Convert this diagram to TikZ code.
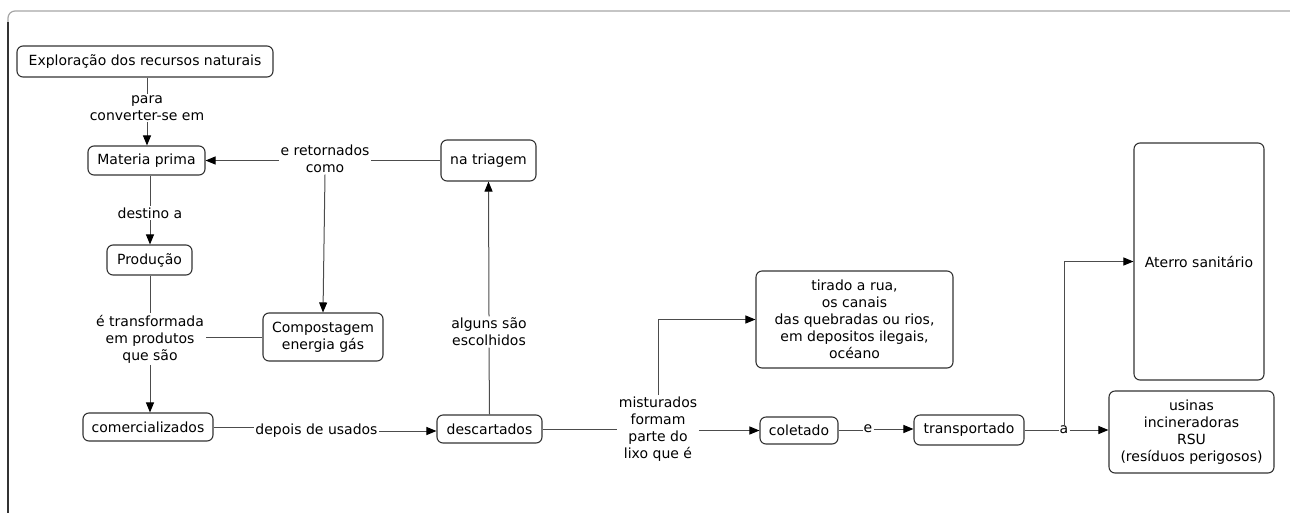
\documentclass[tikz,border=0pt]{standalone}
\usepackage{fontspec}
\setmainfont{DejaVu Sans}
\usetikzlibrary{arrows.meta}
\begin{document}
\begin{tikzpicture}[x=1pt,y=-1pt,
  font=\fontsize{14}{17}\selectfont,
  box/.style={draw=black!80, line width=1.1pt, rounded corners=6pt, align=center,
              inner sep=0pt, text=black},
  phrase/.style={align=center, inner sep=1.5pt, text=black},
  link/.style={draw=black!70, line width=1pt},
  arr/.style={link, -{Triangle[length=10pt,width=8pt,color=black]}},
  frameline/.style={line width=1.2pt}]
\useasboundingbox (0,0) rectangle (1290,512);

% outer frame
\draw[frameline, draw=black!35, rounded corners=7pt] (8,40) -- (8,11) -- (1292,11);
\draw[frameline, draw=black!80] (8,513) -- (8,22);

% concepts
\node[box, minimum width=256pt, minimum height=31pt] (expl) at (145,61.5) {Exploração dos recursos naturais};
\node[box, minimum width=117pt, minimum height=29pt] (mat) at (146.5,160.5) {Materia prima};
\node[box, minimum width=85pt, minimum height=30pt] (prod) at (149.5,260) {Produção};
\node[box, minimum width=130pt, minimum height=28pt] (com) at (148,427) {comercializados};
\node[box, minimum width=120pt, minimum height=48pt] (comp) at (323,337) {Compostagem\\energia gás};
\node[box, minimum width=95pt, minimum height=41pt] (tri) at (488.5,160.5) {na triagem};
\node[box, minimum width=105pt, minimum height=28pt] (desc) at (489.5,429) {descartados};
\node[box, minimum width=197pt, minimum height=97pt] (rua) at (854.5,319.5)
  {tirado a rua,\\os canais\\das quebradas ou rios,\\em depositos ilegais,\\océano};
\node[box, minimum width=78pt, minimum height=27pt] (col) at (799,430.5) {coletado};
\node[box, minimum width=110pt, minimum height=30pt] (trans) at (969,430) {transportado};
\node[box, minimum width=130pt, minimum height=237pt] (ater) at (1199,261.5) {Aterro sanitário};
\node[box, minimum width=165pt, minimum height=82pt] (usi) at (1191.5,432)
  {usinas\\incineradoras\\RSU\\(resíduos perigosos)};

% linking phrases
\node[phrase] (p1) at (147,108) {para\\converter-se em};
\node[phrase] (p2) at (150,213) {destino a};
\node[phrase] (p3) at (150,339) {é transformada\\em produtos\\que são};
\node[phrase] (p4) at (325,159) {e retornados\\como};
\node[phrase] (p5) at (316.5,431) {depois de usados};
\node[phrase] (p6) at (489,332) {alguns são\\escolhidos};
\node[phrase] (p7) at (658,429) {misturados\\formam\\parte do\\lixo que é};
\node[phrase, inner sep=1pt] (p8) at (868,429) {e};
\node[phrase, inner sep=1pt] (p9) at (1064,430) {a};

% connectors
\draw[link] (expl.south -| p1) -- (p1.north);
\draw[arr] (p1.south) -- (p1.south |- mat.north);

\draw[link] (mat.south -| p2) -- (p2.north);
\draw[arr] (p2.south) -- (p2.south |- prod.north);

\draw[link] (prod.south -| p3) -- (p3.north);
\draw[arr] (p3.south) -- (p3.south |- com.north);
\draw[link] (comp.west) -- (comp.west -| p3.east);

\draw[link] (tri.west) -- (tri.west -| p4.east);
\draw[arr] (p4.west |- mat.east) -- (mat.east);
\draw[arr] (p4.south) -- (comp.north);

\draw[link] (com.east) -- (com.east -| p5.west);
\draw[arr] (p5.east) -- (p5.east -| desc.west);

\draw[link] (desc.north) -- (p6.north |- p6.south);
\draw[arr] (p6.north) -- (tri.south);

\draw[link] (desc.east) -- (desc.east -| p7.west);
\draw[arr] (p7.east |- col.west) -- (col.west);
\draw[arr] (p7.north) |- (rua.west);

\draw[link] (col.east) -- (col.east -| p8.west);
\draw[arr] (p8.east) -- (p8.east -| trans.west);

\draw[link] (trans.east) -- (trans.east -| p9.west);
\draw[arr] (p9.east) -- (p9.east -| usi.west);
\draw[arr] (p9.north) |- (ater.west);
\end{tikzpicture}
\end{document}
